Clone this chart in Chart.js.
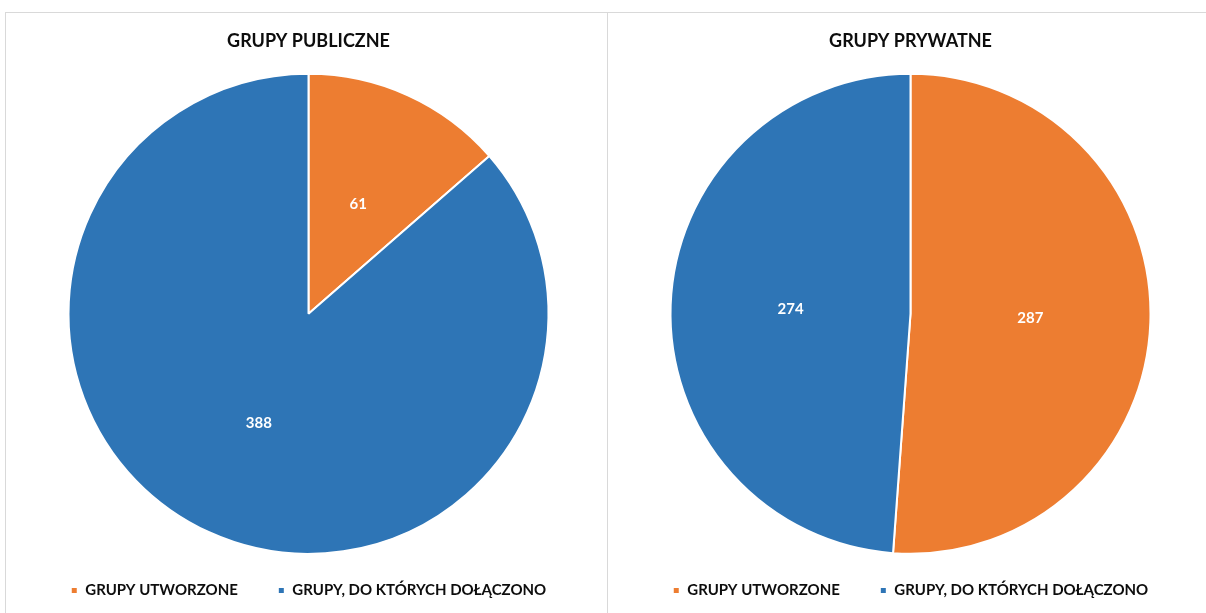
<!DOCTYPE html>
<html>
<head>
<meta charset="utf-8">
<script src="https://cdn.jsdelivr.net/npm/chart.js@4"></script>
<style>
  html, body { margin: 0; padding: 0; background: #fff; width: 1206px; height: 613px; overflow: hidden; }
  .box { position: absolute; top: 12px; height: 610px; box-sizing: border-box; border-top: 1px solid #d9d9d9; }
  #b1 { left: 5px; width: 603px; border-left: 1px solid #d9d9d9; border-right: 1px solid #d9d9d9; }
  #b2 { left: 608px; width: 610px; }
  canvas { position: absolute; top: 0; left: 0; }
</style>
</head>
<body>
<div class="box" id="b1"><canvas id="c1" width="602" height="601"></canvas></div>
<div class="box" id="b2"><canvas id="c2" width="602" height="601"></canvas></div>
<script>
const categories = ['GRUPY UTWORZONE', 'GRUPY, DO KTÓRYCH DOŁĄCZONO'];
const titles = ['GRUPY PUBLICZNE', 'GRUPY PRYWATNE'];
const publicValues = [61, 388];
const privateValues = [287, 274];
const colors = ['#ED7D31', '#2E75B6'];
const FONT = 'Lato, "Open Sans", sans-serif';

const labelPlugin = {
  id: 'sliceLabels',
  afterDatasetsDraw(chart) {
    const ctx = chart.ctx;
    const meta = chart.getDatasetMeta(0);
    const data = chart.data.datasets[0].data;
    ctx.save();
    ctx.fillStyle = '#ffffff';
    ctx.font = 'bold 15px ' + FONT;
    ctx.textAlign = 'center';
    ctx.textBaseline = 'middle';
    meta.data.forEach((arc, i) => {
      const p = arc.tooltipPosition();
      ctx.fillText(String(data[i]), p.x, p.y);
    });
    ctx.restore();
  }
};

function makePie(id, title, values) {
  return new Chart(document.getElementById(id), {
    type: 'pie',
    data: {
      labels: categories,
      datasets: [{
        data: values,
        backgroundColor: colors,
        borderColor: '#ffffff',
        borderWidth: 2,
        radius: 240
      }]
    },
    options: {
      responsive: false,
      animation: false,
      layout: { padding: { left: 3, right: 0, top: 0, bottom: 6 } },
      plugins: {
        title: {
          display: true,
          text: title,
          color: '#0d0d0d',
          font: { family: FONT, size: 18, weight: 'bold', lineHeight: 1.2 },
          padding: { top: 17, bottom: 33 }
        },
        legend: {
          position: 'bottom',
          labels: {
            color: '#0d0d0d',
            boxWidth: 7,
            boxHeight: 7,
            padding: 40,
            font: { family: FONT, size: 15, weight: 'bold' }
          }
        },
        tooltip: { enabled: false }
      }
    },
    plugins: [labelPlugin]
  });
}

makePie('c1', titles[0], publicValues);
makePie('c2', titles[1], privateValues);
</script>
</body>
</html>
